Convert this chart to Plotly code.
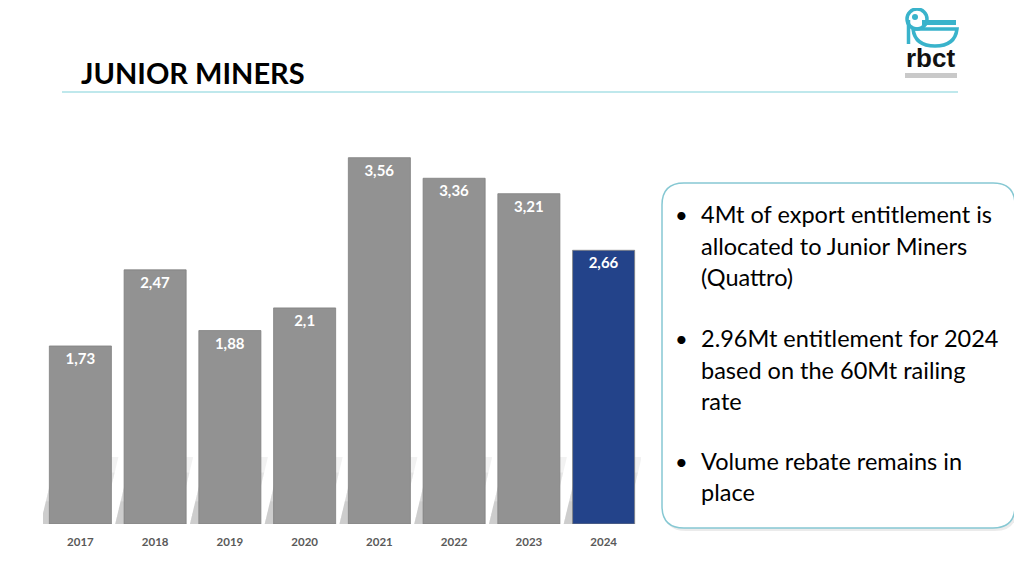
import plotly.graph_objects as go

# data
years = ["2017", "2018", "2019", "2020", "2021", "2022", "2023", "2024"]
volumes = [1.73, 2.47, 1.88, 2.1, 3.56, 3.36, 3.21, 2.66]
bar_colors = ["#929292"] * 7 + ["#23438a"]

title_text = "JUNIOR MINERS"
bullet_groups = [
    ["4Mt of export entitlement is", "allocated to Junior Miners", "(Quattro)"],
    ["2.96Mt entitlement for 2024", "based on the 60Mt railing", "rate"],
    ["Volume rebate remains in", "place"],
]

# page geometry: the page body adds an 8px margin, so work in shifted pixels
OFF = 8
W, H = 1022 - OFF, 575 - OFF
L, R, T, B = 43 - OFF, 381, 140 - OFF, 51
PW, PH = W - L - R, H - T - B


def X(px):
    return (px - OFF - L) / PW


def Y(py):
    return (H - B - (py - OFF)) / PH


fig = go.Figure(
    go.Bar(
        x=years,
        y=volumes,
        marker=dict(color=bar_colors, line=dict(color="#808080", width=0.8)),
        width=0.83,
        texttemplate="%{y:.2~f}",
        textposition="inside",
        insidetextanchor="end",
        textfont=dict(family="Lato", size=15, color="white", weight="bold"),
        cliponaxis=False,
        hoverinfo="skip",
    )
)

shapes = []

# slanted floor shadow behind each bar, layered to fade upward
half = 0.415
for i in range(len(years)):
    for h in (0.65, 0.5, 0.36, 0.22):
        b0 = -0.12
        top = b0 + h * 0.33
        shapes.append(dict(
            type="path", xref="x", yref="y", layer="below",
            path=(f"M {i-half+b0},0 L {i+half+b0},0 "
                  f"L {i+half+top},{h} L {i-half+top},{h} Z"),
            fillcolor="rgba(0,0,0,0.05)", line=dict(width=0),
        ))

# line under the title
shapes.append(dict(type="line", xref="paper", yref="paper",
                   x0=X(62), x1=X(958), y0=Y(92), y1=Y(92),
                   line=dict(color="#bfe8ec", width=2)))


def rounded(x0, y0, x1, y1, r):
    return (f"M {X(x0+r)},{Y(y0)} L {X(x1-r)},{Y(y0)} Q {X(x1)},{Y(y0)} {X(x1)},{Y(y0+r)} "
            f"L {X(x1)},{Y(y1-r)} Q {X(x1)},{Y(y1)} {X(x1-r)},{Y(y1)} "
            f"L {X(x0+r)},{Y(y1)} Q {X(x0)},{Y(y1)} {X(x0)},{Y(y1-r)} "
            f"L {X(x0)},{Y(y0+r)} Q {X(x0)},{Y(y0)} {X(x0+r)},{Y(y0)} Z")


# text box with faint shadow
shapes.append(dict(type="path", xref="paper", yref="paper",
                   path=rounded(664, 186, 1017, 531, 22),
                   fillcolor="rgba(0,0,0,0.08)", line=dict(width=0)))
shapes.append(dict(type="path", xref="paper", yref="paper",
                   path=rounded(662, 183, 1015, 528, 22),
                   fillcolor="white", line=dict(color="#86c8d3", width=1.5)))

# rbct logo (rough)
teal = "#39b3cb"
shapes += [
    dict(type="circle", xref="paper", yref="paper",
         x0=X(907), x1=X(927), y0=Y(9), y1=Y(29), line=dict(color=teal, width=3.5)),
    dict(type="circle", xref="paper", yref="paper", fillcolor=teal,
         x0=X(912), x1=X(918), y0=Y(14), y1=Y(20), line=dict(width=0)),
    dict(type="rect", xref="paper", yref="paper", fillcolor=teal,
         x0=X(922), x1=X(956), y0=Y(20), y1=Y(25), line=dict(width=0)),
    dict(type="line", xref="paper", yref="paper",
         x0=X(908.5), x1=X(908.5), y0=Y(20), y1=Y(44), line=dict(color=teal, width=3.5)),
    dict(type="path", xref="paper", yref="paper",
         path=f"M {X(913)},{Y(29)} L {X(957)},{Y(29)} Q {X(955)},{Y(46)} {X(935)},{Y(46)} "
              f"Q {X(915)},{Y(46)} {X(913)},{Y(29)} Z",
         line=dict(color=teal, width=3.5)),
    dict(type="rect", xref="paper", yref="paper", fillcolor="#c9c9c9",
         x0=X(905), x1=X(957), y0=Y(73), y1=Y(78), line=dict(width=0)),
]

annotations = [
    dict(text=f"<b>{title_text}</b>", xref="paper", yref="paper",
         x=X(79), y=Y(73), xanchor="left", yanchor="middle", showarrow=False,
         font=dict(family="Lato", size=29, color="#000000")),
    dict(text="<b>rbct</b>", xref="paper", yref="paper",
         x=X(931), y=Y(58), xanchor="center", yanchor="middle", showarrow=False,
         font=dict(family="Liberation Sans", size=26, color="#111111")),
]

line_y = [[214, 246, 277], [338, 370, 401], [461, 492]]
for group, ys in zip(bullet_groups, line_y):
    annotations.append(dict(text="•", xref="paper", yref="paper", x=X(673), y=Y(ys[0]),
                            xanchor="left", yanchor="middle", showarrow=False,
                            font=dict(family="Lato", size=22, color="black")))
    for line, yy in zip(group, ys):
        annotations.append(dict(text=line, xref="paper", yref="paper", x=X(699), y=Y(yy),
                                xanchor="left", yanchor="middle", showarrow=False,
                                font=dict(family="Lato", size=23.5, color="black")))

fig.update_layout(
    width=W, height=H,
    margin=dict(l=L, r=R, t=T, b=B),
    paper_bgcolor="white", plot_bgcolor="white",
    separators=",.",
    bargap=0.17,
    showlegend=False,
    xaxis=dict(range=[-0.5, len(years) - 0.5], showgrid=False, showline=False, ticks="",
               ticklabelstandoff=9,
               tickfont=dict(family="Lato", size=11.5, color="#595959", weight="bold")),
    yaxis=dict(range=[0, PH / 102.9], visible=False, showgrid=False),
    shapes=shapes,
    annotations=annotations,
)

fig.write_html("out.html")
